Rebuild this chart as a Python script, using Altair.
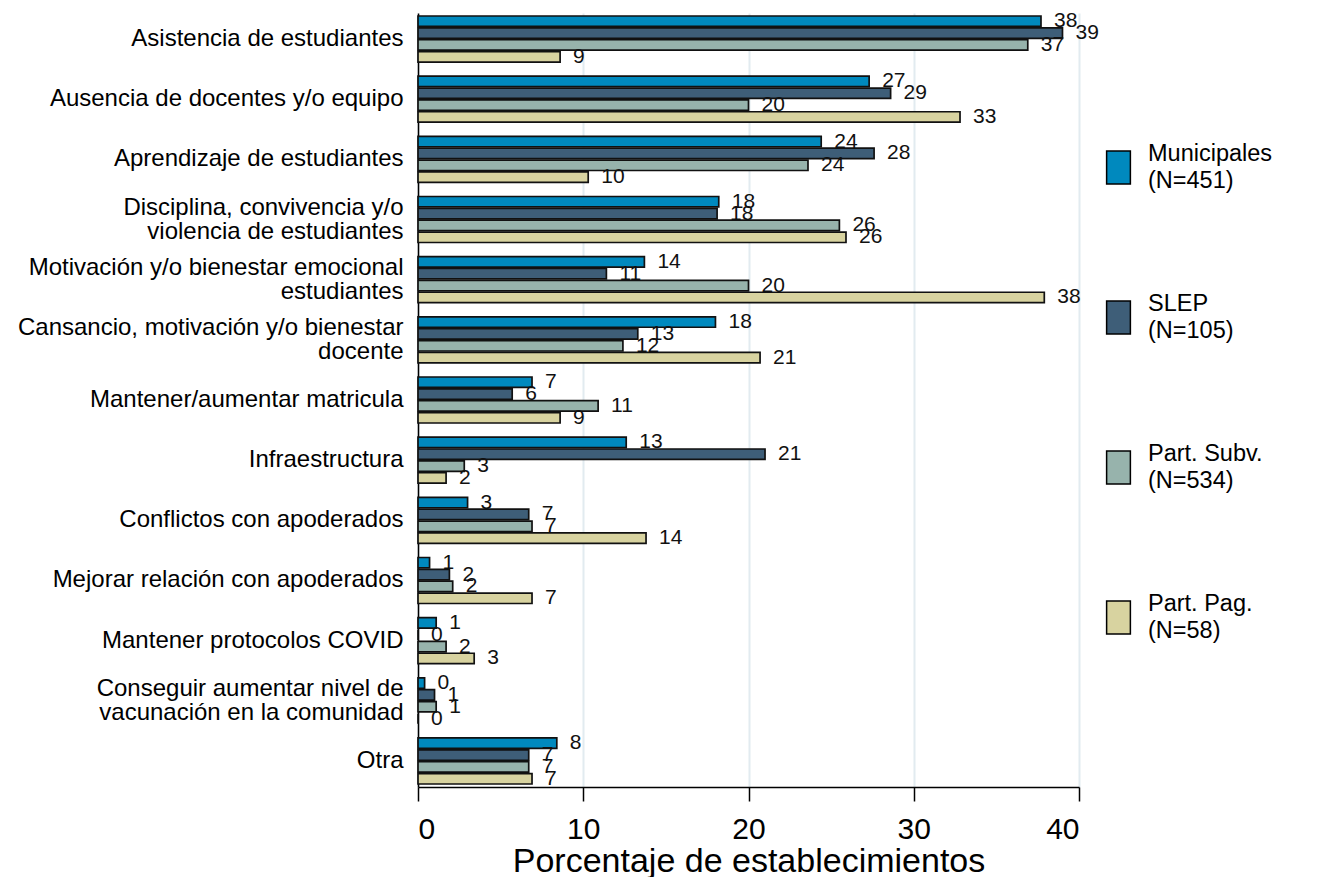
import altair as alt
import pandas as pd

categories = [
    "Asistencia de estudiantes",
    "Ausencia de docentes y/o equipo",
    "Aprendizaje de estudiantes",
    "Disciplina, convivencia y/o|violencia de estudiantes",
    "Motivación y/o bienestar emocional|estudiantes",
    "Cansancio, motivación y/o bienestar|docente",
    "Mantener/aumentar matricula",
    "Infraestructura",
    "Conflictos con apoderados",
    "Mejorar relación con apoderados",
    "Mantener protocolos COVID",
    "Conseguir aumentar nivel de|vacunación en la comunidad",
    "Otra",
]
series = ["Municipales", "SLEP", "Part. Subv.", "Part. Pag."]
n_obs = [451, 105, 534, 58]
municipales = [37.7, 27.3, 24.4, 18.2, 13.7, 18.0, 6.9, 12.6, 3.0, 0.7, 1.1, 0.4, 8.4]
slep = [39.0, 28.6, 27.6, 18.1, 11.4, 13.3, 5.7, 21.0, 6.7, 1.9, 0.0, 1.0, 6.7]
part_subv = [36.9, 20.0, 23.6, 25.5, 20.0, 12.4, 10.9, 2.8, 6.9, 2.1, 1.7, 1.1, 6.7]
part_pag = [8.6, 32.8, 10.3, 25.9, 37.9, 20.7, 8.6, 1.7, 13.8, 6.9, 3.4, 0.0, 6.9]
colors = ["#0089BE", "#3E5E78", "#97B3AC", "#D8D3A0"]

keys = [f"{s}|(N={n})" for s, n in zip(series, n_obs)]
rows = []
for key, vals in zip(keys, [municipales, slep, part_subv, part_pag]):
    for cat, v in zip(categories, vals):
        rows.append({"category": cat, "series": key, "value": v})
df = pd.DataFrame(rows)

FONT = "Liberation Sans"

y_enc = alt.Y(
    "category:N",
    sort=categories,
    scale=alt.Scale(paddingInner=0.235, paddingOuter=0.05),
    axis=alt.Axis(
        title=None,
        labelExpr="split(datum.label, '|')",
        labelFontSize=24,
        labelLineHeight=24,
        labelPadding=15,
        labelOffset=alt.condition(
            "indexof(datum.value, '|') >= 0", alt.value(-12), alt.value(0)
        ),
        ticks=False,
        domainColor="black",
        domainWidth=1.5,
        labelColor="black",
        labelLimit=0,
        grid=False,
    ),
)
yoff_enc = alt.YOffset(
    "series:N",
    scale=alt.Scale(domain=keys, paddingInner=0.12, paddingOuter=0),
)
x_enc = alt.X(
    "value:Q",
    scale=alt.Scale(domain=[0, 40], nice=False),
    axis=alt.Axis(
        values=[0, 10, 20, 30, 40],
        title="Porcentaje de establecimientos",
        format="d",
        domainColor="black",
        domainWidth=1.5,
        tickColor="black",
        tickWidth=1.5,
        tickSize=14,
        labelFontSize=30,
        labelColor="black",
        labelPadding=13,
        labelLineHeight=30,
        titleFontSize=34,
        titleFontWeight="normal",
        titleColor="black",
        titlePadding=0,
        grid=True,
        gridColor="#E2EBF0",
        gridWidth=2,
    ),
)

base = alt.Chart(df)

bars = base.mark_bar(stroke="#111111", strokeWidth=1.7).encode(
    x=x_enc,
    y=y_enc,
    yOffset=yoff_enc,
    color=alt.Color(
        "series:N",
        scale=alt.Scale(domain=keys, range=colors),
        legend=alt.Legend(
            title=None,
            orient="none",
            legendX=683,
            legendY=137,
            symbolType="M-0.72,-1H0.72V1H-0.72Z",
            symbolSize=1089,
            symbolStrokeColor="black",
            symbolStrokeWidth=1.5,
            symbolOpacity=1,
            labelFontSize=23.5,
            labelBaseline="line-bottom",
            labelExpr="split(datum.label, '|')",
            labelColor="black",
            labelLimit=0,
            labelOffset=12,
            rowPadding=99,
            padding=0,
        ),
    ),
)

labels = base.mark_text(
    align="left", baseline="middle", dx=13, fontSize=21, color="#111111"
).encode(
    x=alt.X("value:Q"),
    y=alt.Y("category:N", sort=categories),
    yOffset=alt.YOffset("series:N", scale=alt.Scale(domain=keys)),
    text=alt.Text("value:Q", format=".0f"),
)

chart = (
    alt.layer(bars, labels)
    .properties(
        width=661,
        height=774,
        autosize=alt.AutoSizeParams(type="none"),
        padding={"left": 410, "top": 5, "right": 230, "bottom": 90},
    )
    .configure(font=FONT, style={"guide-label": {"lineHeight": 27}})
    .configure_view(stroke=None)
)

chart.save("out.html", embed_options={"renderer": "svg", "actions": False})
